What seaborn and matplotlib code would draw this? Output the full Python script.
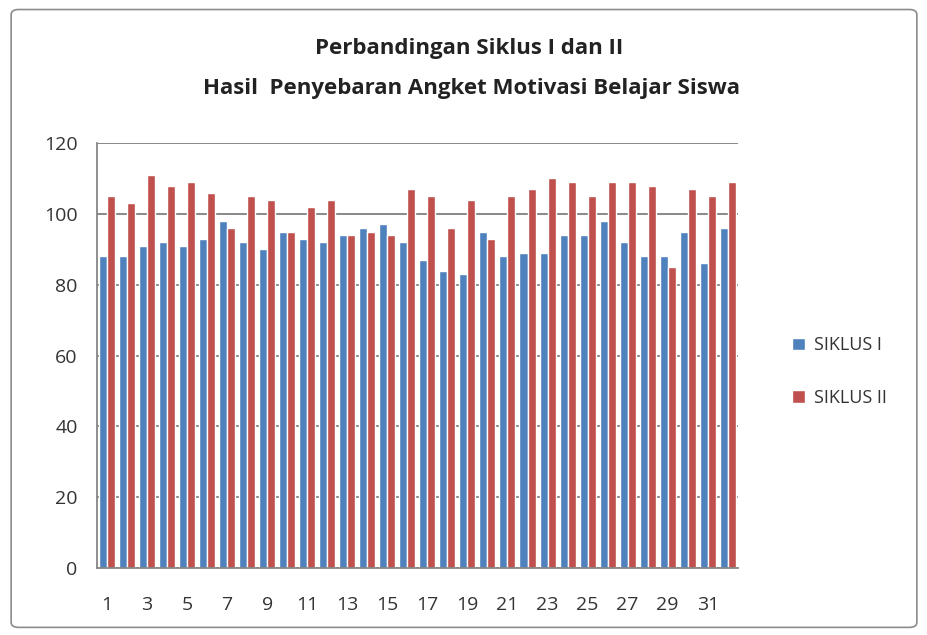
import pandas as pd
import matplotlib.pyplot as plt
import seaborn as sns
from matplotlib.patches import FancyBboxPatch

siswa = list(range(1, 33))
siklus_1 = [88, 88, 91, 92, 91, 93, 98, 92, 90, 95, 93, 92, 94, 96, 97, 92,
            87, 84, 83, 95, 88, 89, 89, 94, 94, 98, 92, 88, 88, 95, 86, 96]
siklus_2 = [105, 103, 111, 108, 109, 106, 96, 105, 104, 95, 102, 104, 94, 95, 94, 107,
            105, 96, 104, 93, 105, 107, 110, 109, 105, 109, 109, 108, 85, 107, 105, 109]
yticks = [0, 20, 40, 60, 80, 100, 120]

data = pd.DataFrame({
    'Siswa': siswa * 2,
    'Nilai': siklus_1 + siklus_2,
    'Siklus': ['SIKLUS I'] * len(siswa) + ['SIKLUS II'] * len(siswa),
})

sns.set_style('white')
plt.rcParams['font.family'] = ['Open Sans', 'DejaVu Sans']

fig = plt.figure(figsize=(9.28, 6.35), dpi=100)
ax = fig.add_axes([0.1045, 0.1055, 0.6905, 0.6693])

sns.barplot(data=data, x='Siswa', y='Nilai', hue='Siklus',
            palette=['#4F81BD', '#C0504D'], width=0.8, ax=ax,
            saturation=1, legend=True)

ax.set_ylim(0, 120)
ax.set_yticks(yticks)
ax.set_yticklabels([str(v) for v in yticks], fontsize=14, color='#333333')
ax.set_xticks(range(len(siswa)))
ax.set_xticklabels([str(s) if s % 2 == 1 else '' for s in siswa], fontsize=14, color='#333333')
ax.tick_params(axis='y', length=0, pad=14)
ax.tick_params(axis='x', length=0, pad=20)
ax.set_xlabel('')
ax.set_ylabel('')
ax.yaxis.grid(True, color='#7f7f7f', linewidth=1.3)
ax.set_axisbelow(True)
for side in ['top', 'right']:
    ax.spines[side].set_visible(False)
for side in ['left', 'bottom']:
    ax.spines[side].set_color('#868686')
    ax.spines[side].set_linewidth(1.3)

handles, labels = ax.get_legend_handles_labels()
ax.legend_.remove()
fig.legend(handles, labels, loc='center left', bbox_to_anchor=(0.836, 0.415),
           frameon=False, fontsize=13, handlelength=0.7, handleheight=0.7,
           handletextpad=0.5, labelspacing=1.9, labelcolor='#333333')

fig.text(0.505, 0.924, 'Perbandingan Siklus I dan II', ha='center', va='center',
         fontsize=16, fontweight='bold', color='#222222')
fig.text(0.508, 0.861, 'Hasil  Penyebaran Angket Motivasi Belajar Siswa', ha='center',
         va='center', fontsize=16, fontweight='bold', color='#222222')

border = FancyBboxPatch((0.012, 0.012), 0.976, 0.973, boxstyle='round,pad=0,rounding_size=0.008',
                        transform=fig.transFigure, fill=False, edgecolor='#8c8c8c', linewidth=1.2)
fig.patches.append(border)

fig.savefig('out.png', dpi=100)
